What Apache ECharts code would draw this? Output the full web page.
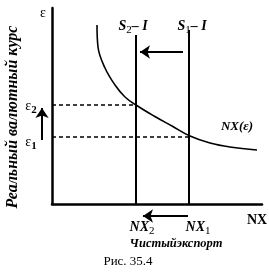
<!DOCTYPE html>
<html><head><meta charset="utf-8">
<script src="https://cdn.jsdelivr.net/npm/echarts@6/dist/echarts.min.js"></script>
<style>html,body{margin:0;padding:0;background:#fff}#c{width:269px;height:279px}</style>
</head><body><div id="c"></div>
<script>
// ---- data (chart units) ----
const curvePts = [[45,179],[46,157],[53,136],[63,119],[73,107],[84,99],[102,88],[120,78],[138,68],[158,61],[178,57],[205,54]];
const s2Line = [[84,0],[84,169]];
const s1Line = [[137,0],[137,174]];
const eps2Line = [[0,99],[84,99]];
const eps1Line = [[0,67],[137,67]];
const topArrow = [[131,152],[88,152]];
const bottomArrow = [[136,-12],[91,-12]];
const leftArrow = [[-10,64],[-10,96]];
const xLabels = ['NX', '2', '1'];
const yLabels = ['ε', '2', '1'];

const FONT = '"Liberation Serif","DejaVu Serif",serif';
const chart = echarts.init(document.getElementById('c'), null, {renderer:'canvas'});
const lineS = (data, w, dash) => ({
  type:'line', data, showSymbol:false, symbol:'none', clip:false, silent:true, animation:false,
  lineStyle:{color:'#000', width:w, type: dash ? [4,3] : 'solid'}
});
const arrowS = (coords) => ({
  type:'lines', coordinateSystem:'cartesian2d', clip:false, silent:true, animation:false,
  symbol:['none','arrow'], symbolSize:[7,10],
  lineStyle:{color:'#000', width:2, opacity:1, curveness:0},
  data:[{coords}]
});
chart.setOption({
  animation:false,
  grid:{left:52, right:7, top:8, bottom:75},
  xAxis:{type:'value', min:0, max:210, axisLine:{lineStyle:{color:'#000', width:2.5}}, axisTick:{show:false}, axisLabel:{show:false}, splitLine:{show:false}},
  yAxis:{type:'value', min:0, max:196, axisLine:{show:true, lineStyle:{color:'#000', width:2.5}}, axisTick:{show:false}, axisLabel:{show:false}, splitLine:{show:false}},
  series:[
    Object.assign(lineS(curvePts, 1.6, false), {smooth:0.4}),
    lineS(s2Line, 2, false),
    lineS(s1Line, 2, false),
    lineS(eps2Line, 1.4, true),
    lineS(eps1Line, 1.4, true),
    arrowS(topArrow),
    arrowS(bottomArrow),
    arrowS(leftArrow)
  ]
});
const px = (x,y) => chart.convertToPixel({gridIndex:0}, [x,y]);
const bi = (sz) => ({fontFamily:FONT, fontStyle:'italic', fontWeight:'bold', fontSize:sz, fill:'#000'});
function richText(x, y, parts, main, sub, align){
  return {type:'text', x, y, style:{
    text: parts, textAlign: align||'center', textVerticalAlign:'middle',
    rich:{m:main, s:sub}
  }};
}
const mainBI = {fontFamily:FONT, fontStyle:'italic', fontWeight:'bold', fontSize:14, color:'#000'};
const subR = {fontFamily:FONT, fontSize:11, color:'#000', padding:[9,0,0,0]};
const mainE = {fontFamily:FONT, fontSize:14, color:'#000'};
const subE = {fontFamily:FONT, fontWeight:'bold', fontSize:11, color:'#000', padding:[9,0,0,0]};
const pS2 = px(s2Line[0][0], 0), pS1 = px(s1Line[0][0], 0);
const pE2 = px(0, eps2Line[0][1]), pE1 = px(0, eps1Line[0][1]);
const g = [
  {type:'text', x:13, y:117, rotation:Math.PI/2, style:Object.assign(bi(16), {text:'Реальный валютный курс', textAlign:'center', textVerticalAlign:'middle'})},
  {type:'text', x:43, y:13, style:{text:yLabels[0], fontFamily:FONT, fontSize:14, fill:'#000', textAlign:'center', textVerticalAlign:'middle'}},
  richText(31, pE2[1]+1, '{m|'+yLabels[0]+'}{s|'+yLabels[1]+'}', mainE, subE),
  richText(31, pE1[1]+5, '{m|'+yLabels[0]+'}{s|'+yLabels[2]+'}', mainE, subE),
  richText(pS2[0]-3, 26, '{m|S}{s|2}{m|– I}', mainBI, subR),
  richText(pS1[0]+3, 26, '{m|S}{s|1}{m|– I}', mainBI, subR),
  richText(pS2[0]+6, 227, '{m|'+xLabels[0]+'}{s|'+xLabels[1]+'}', mainBI, subR),
  richText(pS1[0]+9, 227, '{m|'+xLabels[0]+'}{s|'+xLabels[2]+'}', mainBI, subR),
  {type:'text', x:257, y:220, style:{text:xLabels[0], fontFamily:FONT, fontWeight:'bold', fontSize:14, fill:'#000', textAlign:'center', textVerticalAlign:'middle'}},
  {type:'text', x:237, y:127, style:Object.assign(bi(13), {text:'NX(ε)', textAlign:'center', textVerticalAlign:'middle'})},
  {type:'text', x:176, y:244, style:Object.assign(bi(12.5), {text:'Чистыйэкспорт', textAlign:'center', textVerticalAlign:'middle'})},
  {type:'text', x:128, y:262, style:{text:'Рис. 35.4', fontFamily:FONT, fontSize:13, fill:'#000', textAlign:'center', textVerticalAlign:'middle'}}
];
chart.setOption({graphic:g});
</script></body></html>
